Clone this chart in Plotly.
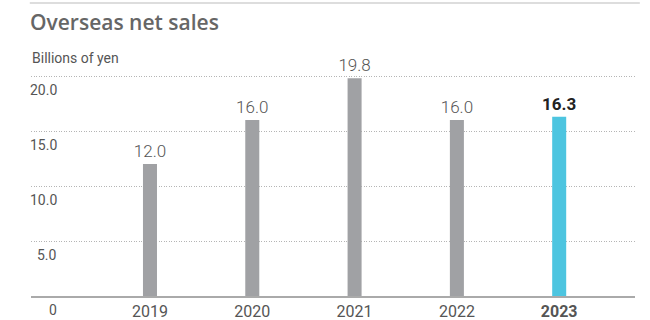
import plotly.graph_objects as go

years = ["2019", "2020", "2021", "2022", "2023"]
sales = [12.0, 16.0, 19.8, 16.0, 16.3]
value_labels = ["12.0", "16.0", "19.8", "16.0", "<b>16.3</b>"]
year_labels = ["2019", "2020", "2021", "2022", "<b>2023</b>"]
bar_colors = ["#A0A1A4", "#A0A1A4", "#A0A1A4", "#A0A1A4", "#4DC5E0"]
ytick_vals = [0, 5, 10, 15, 20]
ytick_text = ["0", "5.0", "10.0", "15.0", "20.0"]

FONT = "Roboto"

fig = go.Figure()
fig.add_trace(go.Bar(
    x=years, y=sales, width=0.137,
    marker=dict(color=bar_colors, line=dict(width=0)),
    text=value_labels, textposition="outside", constraintext="none",
    textfont=dict(family=FONT, size=17, color=["#555555"] * 4 + ["#222222"], weight=300),
    cliponaxis=False,
))

annotations = []
for v, t in zip(ytick_vals, ytick_text):
    annotations.append(dict(
        xref="paper", yref="y", x=0.047, y=v, text=t, showarrow=False,
        xanchor="right", yanchor="top", yshift=-4,
        font=dict(family=FONT, size=14, color="#555555"),
    ))
annotations.append(dict(
    xref="paper", yref="paper", x=-0.002, y=1.03, text="Billions of yen",
    showarrow=False, xanchor="left", yanchor="middle",
    font=dict(family=FONT, size=14, color="#555555"),
))

fig.update_layout(
    width=650, height=320,
    margin=dict(l=31, r=15, t=65, b=24, autoexpand=False),
    paper_bgcolor="white", plot_bgcolor="white",
    showlegend=False,
    title=dict(text="Overseas net sales", xref="container", yref="container",
               x=30 / 650, y=1 - 23 / 320, xanchor="left", yanchor="middle",
               font=dict(family="Open Sans", size=21, color="#666666", weight=600)),
    xaxis=dict(type="category", range=[-1.163, 4.741], showgrid=False,
               showline=True, linecolor="#AAAAAA", linewidth=2,
               tickvals=years, ticktext=year_labels, ticks="",
               tickfont=dict(family=FONT, size=16, color="#555555"),
               automargin=False, fixedrange=True),
    yaxis=dict(range=[0, 21], tickvals=ytick_vals, showticklabels=False,
               showgrid=True, gridcolor="#B5B5B5", griddash="1px,1.5px", gridwidth=1,
               zeroline=False, automargin=False, fixedrange=True),
    annotations=annotations,
    shapes=[dict(type="line", xref="paper", yref="paper", x0=-0.002, x1=1.008,
                 y0=1 + 62 / 231, y1=1 + 62 / 231,
                 line=dict(color="#DDDDDD", width=2))],
)

fig.write_html("out.html", config={"displayModeBar": False},
               post_script="document.body.style.margin='0';")
